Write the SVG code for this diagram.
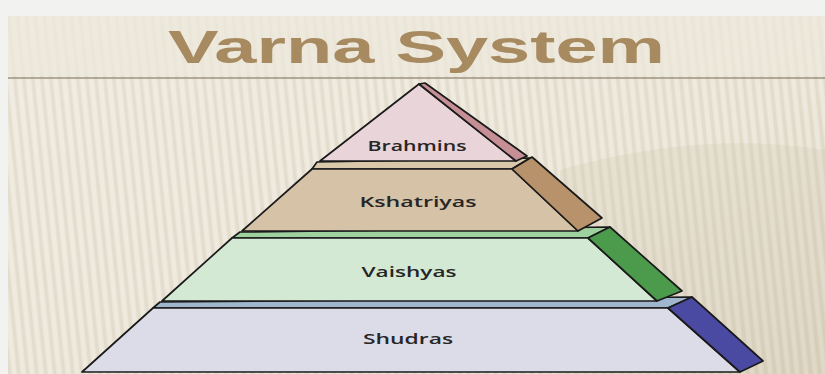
<svg xmlns="http://www.w3.org/2000/svg" width="825" height="374" viewBox="0 0 825 374">
<defs>
<style>
.o{stroke:#1a1a1a;stroke-width:1.7;stroke-linejoin:round}
.lbl{font-family:"Open Sans","DejaVu Sans",sans-serif;font-weight:600;font-size:15px;fill:#262626;text-anchor:middle}
.title{font-family:"Liberation Sans",Arial,sans-serif;font-weight:bold;font-size:46px;fill:#a88a60}
</style>
<pattern id="stripes" width="9" height="374" patternUnits="userSpaceOnUse" patternTransform="skewX(6)">
<rect x="0" y="0" width="4" height="374" fill="#ffffff" opacity="0.22"/>
<rect x="5" y="0" width="3" height="374" fill="#b5aa90" opacity="0.12"/>
</pattern>
<linearGradient id="bg" x1="0" y1="0" x2="1" y2="1">
<stop offset="0" stop-color="#ede8dc"/>
<stop offset="0.6" stop-color="#e9e3d4"/>
<stop offset="1" stop-color="#ddd5c2"/>
</linearGradient>
</defs>
<rect x="0" y="0" width="825" height="374" fill="#f2f2f1"/>
<rect x="8" y="16" width="817" height="358" fill="url(#bg)"/>
<rect x="8" y="16" width="817" height="358" fill="url(#stripes)"/>
<rect x="8" y="16" width="817" height="60" fill="#ede8dc" opacity="0.7"/>
<path d="M560,170 Q700,130 825,150 L825,374 L560,374 Z" fill="#cfc6b0" opacity="0.25"/>
<line x1="8" y1="78" x2="825" y2="78" stroke="#9c9480" stroke-width="1.5"/>
<text class="title" x="168" y="63" textLength="497" lengthAdjust="spacingAndGlyphs">Varna System</text>

<g id="shudras">
<polygon class="o" points="160,302 692,297 668,308 153,308" fill="#9fb6cc"/>
<polygon class="o" points="153,308 668,308 740,372 82,372" fill="#dcdce9"/>
<polygon class="o" points="668,308 692,297 763,361 740,372" fill="#4b4aa3"/>
<text class="lbl" x="408" y="344" textLength="90" lengthAdjust="spacingAndGlyphs">Shudras</text>
</g>
<g id="vaishyas">
<polygon class="o" points="240,232 610,227 588,238 232,238" fill="#9fd19e"/>
<polygon class="o" points="232,238 588,238 657,301 162,301" fill="#d3e9d4"/>
<polygon class="o" points="588,238 610,227 682,291 657,301" fill="#4c9a4c"/>
<text class="lbl" x="409" y="277" textLength="95" lengthAdjust="spacingAndGlyphs">Vaishyas</text>
</g>
<g id="kshatriyas">
<polygon class="o" points="317,162 530,158 512,169 312,169" fill="#dac8aa"/>
<polygon class="o" points="312,169 512,169 578,231 242,231" fill="#d6c2a7"/>
<polygon class="o" points="512,169 532,157 602,218 578,231" fill="#b8926a"/>
<text class="lbl" x="418" y="207" textLength="117" lengthAdjust="spacingAndGlyphs">Kshatriyas</text>
</g>
<g id="brahmins">
<polygon class="o" points="419,84 516,161 320,161" fill="#e9d4d9"/>
<polygon class="o" points="419,84 425,83 527,156 516,161" fill="#c68f96"/>
<text class="lbl" x="417" y="151" textLength="99" lengthAdjust="spacingAndGlyphs">Brahmins</text>
</g>
<g id="connectors"/>
</svg>
